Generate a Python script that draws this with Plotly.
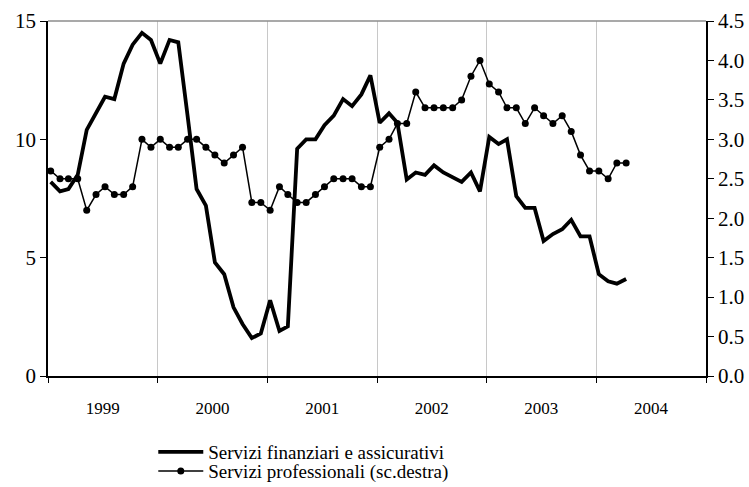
import pandas as pd
import plotly.graph_objects as go

# monthly data, Jan 1999 - Apr 2004
months = pd.date_range("1999-01-01", periods=64, freq="MS") + pd.Timedelta(days=9)

finanziari = [
    8.2, 7.8, 7.9, 8.5, 10.4, 11.1, 11.8, 11.7, 13.2, 14.0, 14.5, 14.2,
    13.2, 14.2, 14.1, 11.0, 7.9, 7.2, 4.8, 4.3, 2.9, 2.2, 1.6, 1.8,
    3.2, 1.9, 2.1, 9.6, 10.0, 10.0, 10.6, 11.0, 11.7, 11.4, 11.9, 12.7,
    10.7, 11.1, 10.7, 8.3, 8.6, 8.5, 8.9, 8.6, 8.4, 8.2, 8.6, 7.8,
    10.1, 9.8, 10.0, 7.6, 7.1, 7.1, 5.7, 6.0, 6.2, 6.6, 5.9, 5.9,
    4.3, 4.0, 3.9, 4.1,
]

professionali = [
    2.6, 2.5, 2.5, 2.5, 2.1, 2.3, 2.4, 2.3, 2.3, 2.4, 3.0, 2.9,
    3.0, 2.9, 2.9, 3.0, 3.0, 2.9, 2.8, 2.7, 2.8, 2.9, 2.2, 2.2,
    2.1, 2.4, 2.3, 2.2, 2.2, 2.3, 2.4, 2.5, 2.5, 2.5, 2.4, 2.4,
    2.9, 3.0, 3.2, 3.2, 3.6, 3.4, 3.4, 3.4, 3.4, 3.5, 3.8, 4.0,
    3.7, 3.6, 3.4, 3.4, 3.2, 3.4, 3.3, 3.2, 3.3, 3.1, 2.8, 2.6,
    2.6, 2.5, 2.7, 2.7,
]

x_range = ["1999-01-01", "2005-01-01"]
serif = "Liberation Serif, DejaVu Serif, Times New Roman, serif"

fig = go.Figure()

fig.add_trace(
    go.Scatter(
        x=months,
        y=finanziari,
        mode="lines",
        name="Servizi finanziari e assicurativi",
        line=dict(color="black", width=3.8),
        legend="legend",
    )
)

fig.add_trace(
    go.Scatter(
        x=months,
        y=professionali,
        mode="lines+markers",
        name="Servizi professionali (sc.destra)",
        line=dict(color="black", width=1.5),
        marker=dict(color="black", size=7),
        yaxis="y2",
        legend="legend2",
    )
)

legend_style = dict(
    xanchor="left",
    yanchor="middle",
    itemwidth=45,
    font=dict(family=serif, size=19, color="black"),
    bgcolor="rgba(0,0,0,0)",
)

fig.update_layout(
    width=749,
    height=487,
    margin=dict(l=48, r=43, t=21, b=111, autoexpand=False),
    plot_bgcolor="white",
    paper_bgcolor="white",
    font=dict(family=serif, size=19, color="black"),
    showlegend=True,
    legend=dict(x=0.16, y=-0.214, **legend_style),
    legend2=dict(x=0.16, y=-0.268, **legend_style),
    xaxis=dict(
        type="date",
        range=x_range,
        tick0="1999-01-01",
        dtick="M12",
        tickformat="%Y",
        ticklabelmode="period",
        ticks="outside",
        ticklen=5,
        tickcolor="black",
        ticklabelstandoff=11,
        showline=True,
        linecolor="black",
        linewidth=1.5,
        showgrid=True,
        gridcolor="#c8c8c8",
        gridwidth=1,
        tickfont=dict(family=serif, size=17),
    ),
    yaxis=dict(
        range=[0, 15],
        dtick=5,
        ticks="outside",
        ticklen=6,
        tickcolor="black",
        showline=True,
        linecolor="black",
        linewidth=1.5,
        showgrid=False,
        zeroline=False,
        tickfont=dict(family=serif, size=21),
    ),
    yaxis2=dict(
        range=[0, 4.5],
        dtick=0.5,
        tickformat=".1f",
        overlaying="y",
        side="right",
        ticks="outside",
        ticklen=6,
        tickcolor="black",
        showline=True,
        linecolor="black",
        linewidth=1.5,
        showgrid=False,
        zeroline=False,
        tickfont=dict(family=serif, size=21),
    ),
    yaxis3=dict(
        range=[0, 4.5],
        dtick=0.5,
        overlaying="y",
        side="right",
        ticks="inside",
        ticklen=5,
        tickcolor="black",
        showticklabels=False,
        showline=False,
        showgrid=False,
        zeroline=False,
    ),
)

# grey frame line along the top of the plot area
fig.add_shape(
    type="line", xref="paper", yref="paper",
    x0=0, x1=1, y0=1, y1=1,
    line=dict(color="#8c8c8c", width=1.5),
)

fig.write_html(
    "out.html",
    config={"displayModeBar": False},
    post_script="document.body.style.margin='0';",
)
